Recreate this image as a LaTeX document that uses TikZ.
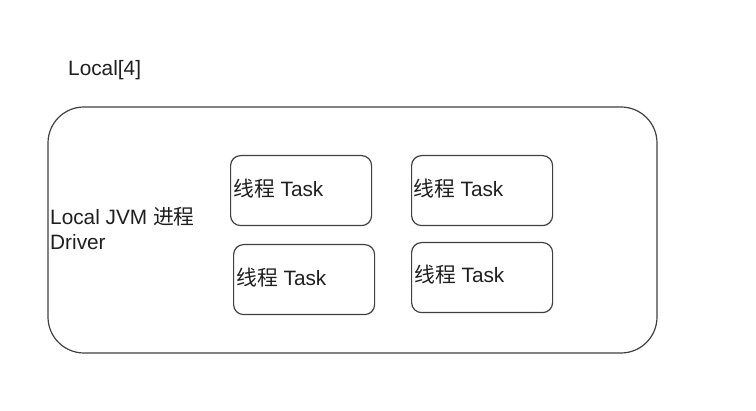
\documentclass[tikz,border=0pt]{standalone}
\usepackage{fontspec}
\setmainfont{Liberation Sans}
\newfontfamily\cjk{Noto Sans CJK SC}
\begin{document}
\begin{tikzpicture}[x=1pt,y=-1pt,
  box/.style={draw=black!75,line width=1.2pt,rounded corners=10pt},
  outer/.style={draw=black!75,line width=1.2pt,rounded corners=36pt},
  lbl/.style={anchor=base west,inner sep=0pt,font=\fontsize{20.8}{25}\selectfont,text=black!88}]
\useasboundingbox[fill=white] (0,0) rectangle (756,411);
\draw[outer] (48,107) rectangle (657,353);
\node[box,minimum width=141pt,minimum height=70pt,anchor=north west] (t1) at (230,155) {};
\node[box,minimum width=141pt,minimum height=70pt,anchor=north west] (t2) at (411,155) {};
\node[box,minimum width=141pt,minimum height=70pt,anchor=north west] (t3) at (233,244) {};
\node[box,minimum width=141pt,minimum height=70pt,anchor=north west] (t4) at (411,242) {};
\node[lbl] (l1) at (233,197) {{\cjk 线程} Task};
\node[lbl] (l2) at (413,197) {{\cjk 线程} Task};
\node[lbl] (l3) at (236,286) {{\cjk 线程} Task};
\node[lbl] (l4) at (414,283) {{\cjk 线程} Task};
\node[lbl] (top) at (68,76) {Local[4]};
\node[lbl] (drv1) at (50,225) {Local JVM {\cjk 进程}};
\node[lbl] (drv2) at (50,250) {Driver};
\end{tikzpicture}
\end{document}
